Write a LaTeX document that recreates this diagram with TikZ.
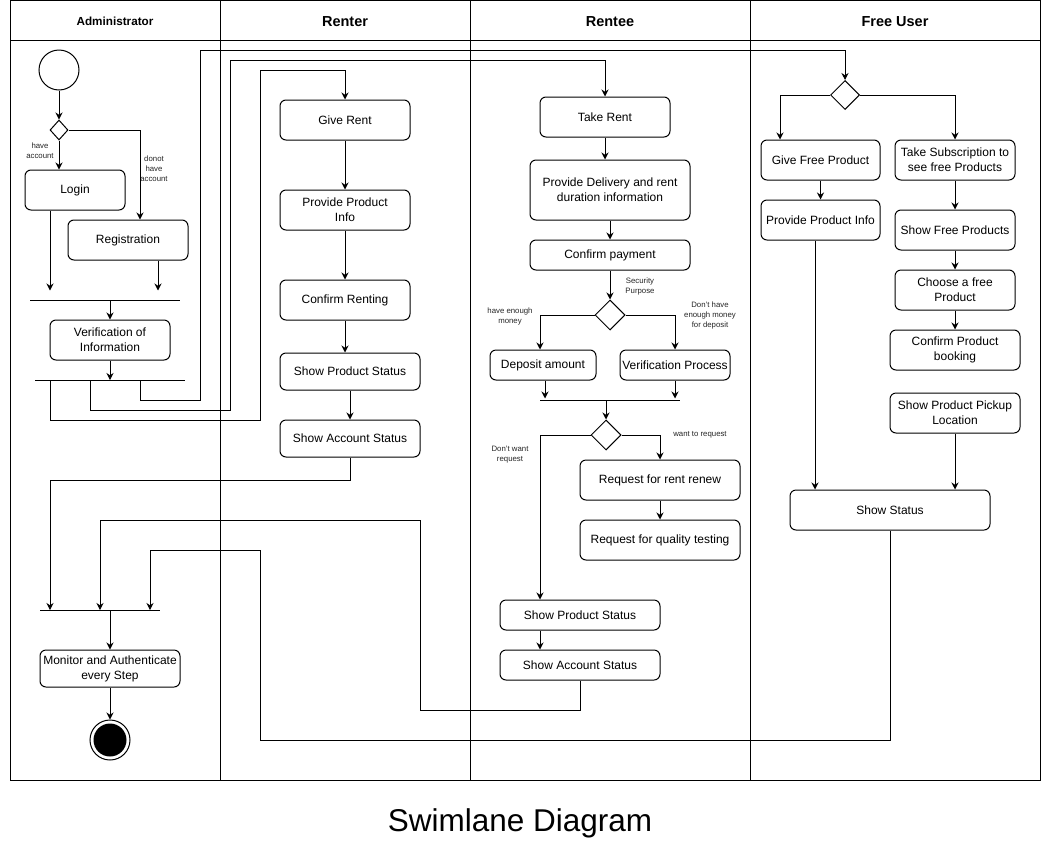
\documentclass[tikz,border=0pt]{standalone}
\usepackage{fontspec}
\setmainfont{Liberation Sans}
\usetikzlibrary{shapes.geometric,arrows.meta}
\begin{document}
\begin{tikzpicture}[x=1pt,y=-1pt,
  box/.style={draw, rounded corners=6pt, line width=1pt, align=center, font=\fontsize{12}{15}\selectfont, inner sep=2pt},
  sz/.style 2 args={minimum width=#1, minimum height=#2},
  arr/.style={-{Stealth[length=7pt,width=7pt]}, line width=1pt},
  ln/.style={line width=1pt},
  lab/.style={font=\fontsize{7.8}{10}\selectfont, align=center, text=black!85},
  dia/.style={draw, diamond, line width=1pt, inner sep=0pt, fill=white},
  hdr/.style={font=\bfseries\fontsize{14.5}{17}\selectfont}]
\useasboundingbox (0,0) rectangle (1041,841);
\fill[white] (0,0) rectangle (1041,841);
% lanes
\draw[ln] (10,0) rectangle (1040,780);
\draw[ln] (10,40) -- (1040,40);
\draw[ln] (220,0) -- (220,780);
\draw[ln] (470,0) -- (470,780);
\draw[ln] (750,0) -- (750,780);
\node[font=\bfseries\fontsize{11.7}{14}\selectfont] (hadmin) at (115,21) {Administrator};
\node[hdr] (hrenter) at (345,22) {Renter};
\node[hdr] (hrentee) at (610,22) {Rentee};
\node[hdr] (hfree) at (895,22) {Free User};
\node[font=\fontsize{31.5}{36}\selectfont] (title) at (520,823) {Swimlane Diagram};

% Administrator lane
\node[draw, circle, line width=1pt, minimum size=40pt, inner sep=0pt] (start) at (59,70) {};
\node[dia, minimum width=18pt, minimum height=20pt] (d1) at (59,130) {};
\node[box, sz={100pt}{40pt}] (login) at (75,190) {Login};
\node[box, sz={120pt}{40pt}] (reg) at (128,240) {Registration};
\node[box, sz={120pt}{40pt}] (verif) at (110,340) {Verification of\\Information};
\node[box, sz={140pt}{37pt}] (monitor) at (110,668.5) {Monitor and Authenticate\\every Step};
\node[draw, circle, line width=1pt, minimum size=40pt, inner sep=0pt] (endn) at (110,740) {};
\fill (endn.center) circle (16.5);
\node[lab] (lhave) at (40,151) {have\\account};
\node[lab] (lnot) at (154,169) {donot\\have\\account};

\coordinate (b1a) at (30,300); \coordinate (b1b) at (180,300);
\coordinate (b2a) at (35,380); \coordinate (b2b) at (185,380);
\coordinate (b3a) at (40,610); \coordinate (b3b) at (160,610);
\draw[ln] (b1a) -- (b1b);
\draw[ln] (b2a) -- (b2b);
\draw[ln] (b3a) -- (b3b);

\draw[arr] (start) -- (d1);
\draw[arr] (d1.south) -- (d1.south |- login.north);
\draw[arr] (d1.east) -| ([xshift=12pt]reg.north);
\draw[arr] ([xshift=-25pt]login.south) -- ++(0,80);
\draw[arr] ([xshift=30pt]reg.south) -- ++(0,30);
\draw[arr] (110,300) -- (verif.north);
\draw[arr] (verif.south) -- (110,380);
\draw[arr] (110,610) -- (monitor.north);
\draw[arr] (monitor.south) -- (endn.north);

% Renter lane
\node[box, sz={130pt}{40pt}] (giverent) at (345,120) {Give Rent};
\node[box, sz={130pt}{40pt}] (ppinfo) at (345,210) {Provide Product\\Info};
\node[box, sz={130pt}{40pt}] (confrent) at (345,300) {Confirm Renting};
\node[box, sz={140pt}{37pt}] (rpstat) at (350,371.5) {Show Product Status};
\node[box, sz={140pt}{37pt}] (racc) at (350,438.5) {Show Account Status};
\draw[arr] (giverent) -- (ppinfo);
\draw[arr] (ppinfo) -- (confrent);
\draw[arr] (confrent.south) -- (confrent.south |- rpstat.north);
\draw[arr] (rpstat) -- (racc);

% Rentee lane
\node[box, sz={130pt}{40pt}] (takerent) at (605,117) {Take Rent};
\node[box, sz={160pt}{60pt}] (deliv) at (610,190) {Provide Delivery and rent\\duration information};
\node[box, sz={160pt}{30pt}] (confpay) at (610,255) {Confirm payment};
\node[dia, minimum width=30pt, minimum height=30pt] (d2) at (610,315) {};
\node[box, sz={106pt}{30pt}] (deposit) at (543,365) {Deposit amount};
\node[box, sz={110pt}{30pt}] (verproc) at (675,365) {Verification Process};
\node[dia, minimum width=30pt, minimum height=30pt] (d3) at (606,435) {};
\node[box, sz={160pt}{40pt}] (renew) at (660,480) {Request for rent renew};
\node[box, sz={160pt}{40pt}] (quality) at (660,540) {Request for quality testing};
\node[box, sz={160pt}{30pt}] (pstat) at (580,615) {Show Product Status};
\node[box, sz={160pt}{30pt}] (pacc) at (580,665) {Show Account Status};
\node[lab] (lsec) at (640,286) {Security\\Purpose};
\node[lab] (lenough) at (510,316) {have enough\\money};
\node[lab] (lnoenough) at (710,315) {Don't have\\enough money\\for deposit};
\node[lab] (lwant) at (700,435) {want to request};
\node[lab] (lnowant) at (510,455) {Don't want\\request};
\coordinate (b4a) at (540,400); \coordinate (b4b) at (680,400);
\draw[ln] (b4a) -- (b4b);

\draw[arr] (takerent.south) -- (takerent.south |- deliv.north);
\draw[arr] (deliv) -- (confpay);
\draw[arr] (confpay) -- (d2);
\draw[arr] (d2.west) -| ([xshift=-3pt]deposit.north);
\draw[arr] (d2.east) -| (verproc.north);
\draw[arr] ([xshift=2pt]deposit.south) -- ++(0,18);
\draw[arr] (verproc.south) -- ++(0,18);
\draw[arr] (606,400) -- (d3.north);
\draw[arr] (d3.west) -| ([xshift=-40pt]pstat.north);
\draw[arr] (d3.east) -| (renew.north);
\draw[arr] (renew) -- (quality);
\draw[arr] ([xshift=-40pt]pstat.south) -- ([xshift=-40pt]pacc.north);

% Free User lane
\node[dia, minimum width=29pt, minimum height=29pt] (d4) at (845,95) {};
\node[box, sz={119pt}{40pt}] (givefree) at (820.5,160) {Give Free Product};
\node[box, sz={119pt}{40pt}] (fpinfo) at (820.5,220) {Provide Product Info};
\node[box, sz={120pt}{40pt}] (takesub) at (955,160) {Take Subscription to\\see free Products};
\node[box, sz={120pt}{40pt}] (showfree) at (955,230) {Show Free Products};
\node[box, sz={120pt}{40pt}] (choose) at (955,290) {Choose a free\\Product};
\node[box, sz={130pt}{40pt}] (confbook) at (955,350) {Confirm Product\\booking};
\node[box, sz={130pt}{40pt}] (pickup) at (955,413) {Show Product Pickup\\Location};
\node[box, sz={200pt}{40pt}] (showstatus) at (890,510) {Show Status};
\draw[arr] (d4.west) -| ([xshift=-40.5pt]givefree.north);
\draw[arr] (d4.east) -| (takesub.north);
\draw[arr] (givefree) -- (fpinfo);
\draw[arr] ([xshift=-5.5pt]fpinfo.south) -- ([xshift=-5.5pt]fpinfo.south |- showstatus.north);
\draw[arr] (takesub) -- (showfree);
\draw[arr] (showfree) -- (choose);
\draw[arr] (choose) -- (confbook);
\draw[arr] (pickup.south) -- (pickup.south |- showstatus.north);

% cross-lane connectors
\draw[arr] (140,380) |- (200,400) |- (845,50) -- (d4.north);
\draw[arr] (90,380) |- (230,410) |- (605,60) -- (takerent.north);
\draw[arr] (50,380) |- (260,420) |- (345,70) -- (giverent.north);
\draw[arr] (racc.south) |- (50,480) -- (50,610);
\draw[arr] (pacc.south) -- (580,710) -| (420,520) -| (100,610);
\draw[arr] (showstatus.south) |- (260,740) |- (150,550) -- (150,610);
\end{tikzpicture}
\end{document}
